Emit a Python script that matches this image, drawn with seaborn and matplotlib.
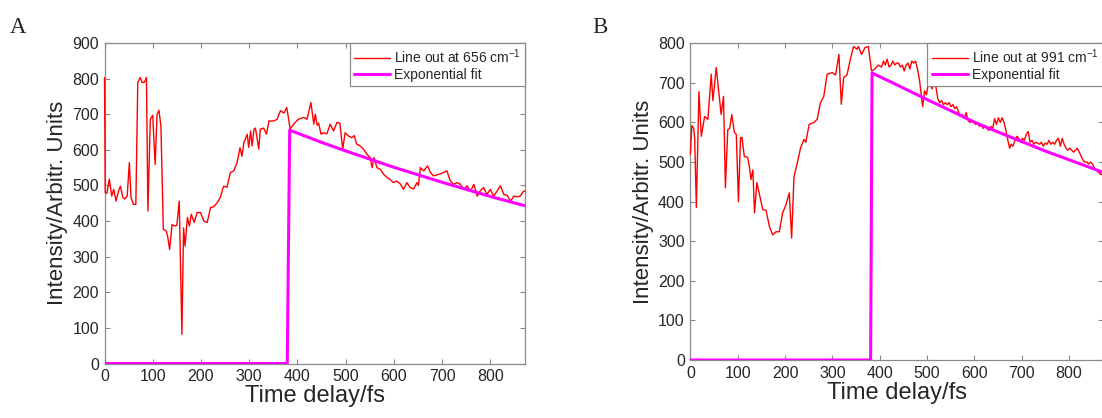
import pandas as pd
import matplotlib
matplotlib.use("Agg")
import matplotlib.pyplot as plt
import seaborn as sns

# --- data (time delay fs, intensity a.u.) ---
line_656 = [
    (0, 803), (1.5, 480), (5, 478), (10, 518), (15, 470), (19, 489), (24, 456), (29, 484), (33, 498), (38, 466),
    (42, 462), (47, 470), (51.5, 564), (55, 466), (60, 447), (65, 447), (69, 789), (74, 803), (78, 789), (83, 790),
    (87, 803), (90, 428), (95, 686), (100, 697), (105, 559), (109, 700), (113, 711), (117, 666), (122, 377), (128, 372),
    (131, 357), (135, 320), (140, 390), (145, 386), (150, 388), (155, 456), (158.5, 208), (160.5, 82), (164, 381), (167, 330),
    (172, 410), (176, 386), (180, 419), (186, 396), (192, 424), (199, 424), (206, 400), (213, 396), (220, 438), (226, 440),
    (234, 452), (240, 466), (247, 498), (254, 495), (261, 536), (268, 541), (275, 564), (281, 606), (285, 582), (289, 620),
    (296, 644), (299, 607), (303, 653), (306, 611), (310, 658), (313, 661), (320, 602), (323, 658), (330, 661), (336, 644),
    (341, 681), (351, 681), (358, 686), (365, 710), (372, 703), (378, 719), (385, 658), (392, 672), (402, 686), (413, 691),
    (420, 686), (428, 733), (434, 672), (437, 700), (441, 669), (444, 675), (449, 644), (454, 648), (461, 645), (468, 672),
    (475, 653), (482, 677), (488, 675), (494, 602), (499, 648), (506, 639), (513, 634), (518, 640), (523, 616), (530, 611),
    (537, 602), (544, 588), (551, 578), (555, 550), (559, 578), (565, 550), (572, 545), (579, 531), (586, 522), (592, 517),
    (599, 508), (606, 512), (613, 505), (620, 489), (627, 508), (634, 494), (641, 490), (648, 508), (651, 500), (655, 550),
    (662, 541), (670, 555), (676, 536), (682, 527), (693, 531), (703, 536), (710, 541), (717, 513), (724, 503), (731, 508),
    (738, 503), (745, 489), (752, 499), (759, 484), (766, 503), (773, 470), (779, 485), (786, 494), (793, 475), (800, 489),
    (807, 470), (814, 484), (821, 499), (828, 475), (835, 472), (842, 456), (849, 470), (856, 468), (862, 470), (869, 484),
    (872, 484),
]
fit_656 = [
    (0, 0), (379, 0), (384, 655), (400, 647), (450, 621), (500, 597), (550, 574), (600, 551),
    (650, 530), (700, 509), (750, 489), (800, 469), (850, 451), (872, 443),
]

line_991 = [
    (0, 520), (3, 592), (7, 585), (9, 560), (12.6, 385), (18, 678), (23, 565), (30, 615), (37, 608), (44, 722),
    (47.6, 655), (54.6, 739), (61.6, 658), (65, 620), (70, 666), (74, 435), (79, 582), (83, 585), (87.5, 620), (93, 575),
    (97, 570), (101.5, 400), (106, 562), (109, 562), (114, 514), (121, 512), (124.6, 489), (128, 456), (132, 480), (135.6, 372),
    (140.5, 448), (146, 418), (153, 380), (160, 378), (167, 337), (174, 316), (181, 324), (188, 324), (195, 372), (202, 392),
    (209, 422), (214, 308), (219, 463), (226, 498), (233, 536), (240, 557), (244, 550), (251, 595), (261, 600), (268, 608),
    (275, 650), (282, 666), (289, 722), (300, 726), (307, 720), (314, 772), (319, 646), (324, 714), (331, 720), (338, 759),
    (345, 792), (352, 785), (355, 792), (362, 772), (369, 789), (376, 792), (383, 730), (390, 735), (397, 745), (404, 740),
    (408, 755), (412, 745), (416, 760), (420, 740), (424, 745), (428, 755), (432, 745), (436, 750), (440, 750), (444, 740),
    (448, 745), (452, 730), (456, 745), (460, 750), (464, 735), (468, 755), (472, 750), (476, 755), (480, 735), (484, 710),
    (488, 670), (491, 640), (495, 680), (499, 670), (503, 700), (507, 695), (511, 685), (515, 700), (519, 690), (523, 660),
    (527, 650), (531, 655), (535, 645), (539, 650), (543, 645), (547, 650), (551, 640), (555, 645), (559, 635), (563, 640),
    (567, 625), (571, 615), (575, 620), (579, 610), (583, 625), (587, 605), (591, 600), (595, 605), (599, 600), (603, 595),
    (607, 600), (611, 590), (615, 595), (619, 585), (623, 590), (627, 585), (631, 580), (635, 590), (639, 585), (643, 610),
    (647, 595), (651, 612), (655, 600), (659, 612), (663, 600), (667, 580), (671, 555), (675, 535), (678, 545), (682, 540),
    (686, 555), (690, 565), (694, 560), (698, 550), (702, 560), (706, 555), (710, 570), (714, 577), (718, 550), (722, 555),
    (726, 545), (730, 550), (734, 548), (738, 545), (742, 550), (746, 540), (750, 548), (754, 545), (758, 555), (762, 545),
    (766, 550), (770, 545), (774, 555), (778, 560), (782, 540), (786, 560), (790, 545), (794, 535), (798, 530), (802, 535),
    (806, 530), (810, 525), (814, 530), (818, 535), (822, 525), (826, 515), (830, 505), (834, 500), (838, 500), (842, 495),
    (846, 500), (850, 495), (854, 485), (858, 480), (862, 475), (866, 470), (870, 468),
]
fit_991 = [
    (0, 0), (381, 0), (384, 725), (433, 697), (500, 658), (550, 630), (600, 601),
    (650, 576), (700, 552), (750, 528), (800, 506), (850, 484), (872, 474),
]

x_ticks = list(range(0, 900, 100))

sns.set_style("white")
plt.rcParams['font.family'] = ['Liberation Sans', 'DejaVu Sans']
plt.rcParams['mathtext.fontset'] = 'custom'
plt.rcParams['mathtext.rm'] = 'Liberation Sans'
plt.rcParams['mathtext.it'] = 'Liberation Sans'

GRAY = "#8a8a8a"
TXT = "#262626"


def make_df(pairs):
    return pd.DataFrame(pairs, columns=["t", "I"])


def draw_panel(ax, line, fit, wavenumber, ymax):
    # red line-out, not clipped so the spike on the left spine stays visible
    sns.lineplot(data=make_df(line), x="t", y="I", ax=ax, color="#ff0000", lw=1.0, zorder=3,
                 estimator=None, sort=False, clip_on=False,
                 label=f"Line out at {wavenumber} cm$^{{\\mathrm{{-1}}}}$")
    sns.lineplot(data=make_df(fit), x="t", y="I", ax=ax, color="#ff00ff", lw=2.2, zorder=3,
                 estimator=None, sort=False, label="Exponential fit")
    ax.set_xlim(0, 872)
    ax.set_ylim(0, ymax)
    ax.set_xticks(x_ticks)
    ax.set_yticks(list(range(0, ymax + 1, 100)))
    ax.set_xlabel("Time delay/fs", fontsize=17, color=TXT, labelpad=1)
    ax.set_ylabel("Intensity/Arbitr. Units", fontsize=16, color=TXT, labelpad=3)
    ax.tick_params(direction="in", length=3.5, width=0.8, color=GRAY, labelsize=11.5,
                   labelcolor=TXT, top=True, right=True, bottom=True, left=True, pad=4)
    for s in ax.spines.values():
        s.set_color(GRAY)
        s.set_linewidth(0.9)
    leg = ax.legend(loc="upper right", borderaxespad=0, fontsize=10, frameon=True,
                    fancybox=False, framealpha=1, edgecolor=GRAY, handlelength=2.6,
                    handletextpad=0.3, borderpad=0.3, labelspacing=0.15)
    leg.get_frame().set_linewidth(0.9)
    leg.set_zorder(5)


fig = plt.figure(figsize=(11.02, 4.18), dpi=100)
ax_a = fig.add_axes([104.5 / 1102, 1 - 363.5 / 418, 420.5 / 1102, 320.5 / 418])
ax_b = fig.add_axes([690.4 / 1102, 1 - 360 / 418, 412.5 / 1102, 316.7 / 418])

draw_panel(ax_a, line_656, fit_656, 656, 900)
draw_panel(ax_b, line_991, fit_991, 991, 800)

fig.text(10 / 1102, 1 - 33 / 418, "A", family="Liberation Serif", fontsize=16.5, va="baseline")
fig.text(592 / 1102, 1 - 33 / 418, "B", family="Liberation Serif", fontsize=16.5, va="baseline")

fig.savefig("out.png", dpi=100)
